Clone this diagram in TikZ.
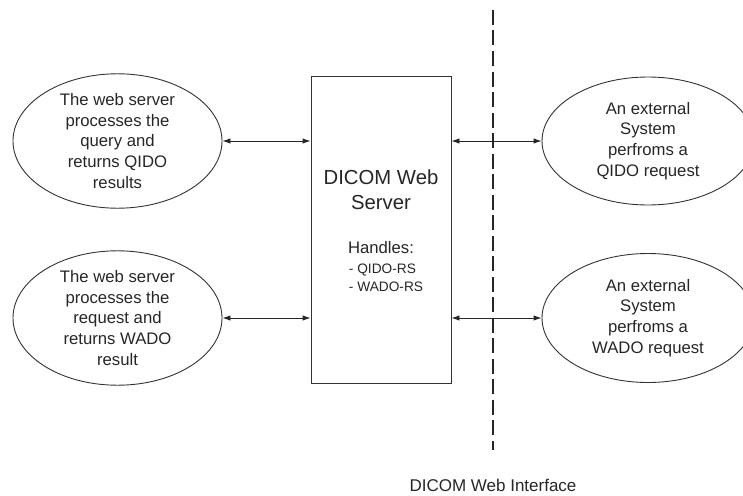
\documentclass[tikz,border=0pt]{standalone}
\usepackage{fontspec}
\setmainfont{Liberation Sans}
\usetikzlibrary{shapes.geometric, arrows.meta}
\tikzset{>={Latex[length=8pt, width=5.5pt]}}
\tikzset{
	task/.style={draw=black!80, line width=0.9pt, ellipse, inner sep=0pt, align=center, text=black!85,
		font=\fontsize{16.7}{20.7}\selectfont},
	link/.style={<->, draw=black!85, line width=0.9pt}
}
\newcommand{\txt}[2]{\fontsize{#1}{#2}\selectfont}

\begin{document}
\begin{tikzpicture}[x=1pt, y=-1pt]
    \useasboundingbox (0, 0) rectangle (743, 495);
    \node[draw=black!80, line width=0.9pt, minimum width=140pt, minimum height=307pt, inner sep=0pt](server) at (381, 229.5){};
    \node[align=center, text=black!85, font=\txt{20.3}{25}](title) at (381, 190){DICOM Web\\Server};
    \node[align=center, text=black!85, font=\txt{16.7}{18}](handles) at (381, 248){Handles:};
    \node[align=left, text=black!85, font=\txt{13.7}{18}](list) at (386, 278){- QIDO-RS\\- WADO-RS};
    \node[task, minimum width=209pt, minimum height=128pt](qidoRes) at (117.5, 141){The web server\\processes the\\query and\\returns QIDO\\results};
    \node[task, minimum width=209pt, minimum height=127pt](wadoRes) at (117.5, 318){The web server\\processes the\\request and\\returns WADO\\result};
    \node[task, minimum width=212pt, minimum height=128pt](qidoReq) at (648, 141){An external\\System\\perfroms a\\QIDO request};
    \node[task, minimum width=212pt, minimum height=129pt](wadoReq) at (648, 318){An external\\System\\perfroms a\\WADO request};
    \coordinate (ifTop) at (493, 10);
    \coordinate (ifBot) at (493, 450);
    \draw[black!85, line width=2.2pt, dash pattern=on 15pt off 5.5pt](ifTop)--(ifBot);
    \node[text=black!85, font=\txt{17}{20}](iface) at (493, 485){DICOM Web Interface};
    \draw[link](qidoRes.east)--(qidoRes.east -| server.west);
    \draw[link](wadoRes.east)--(wadoRes.east -| server.west);
    \draw[link](server.east |- qidoReq.west)--(qidoReq.west);
    \draw[link](server.east |- wadoReq.west)--(wadoReq.west);
\end{tikzpicture}
\end{document}
